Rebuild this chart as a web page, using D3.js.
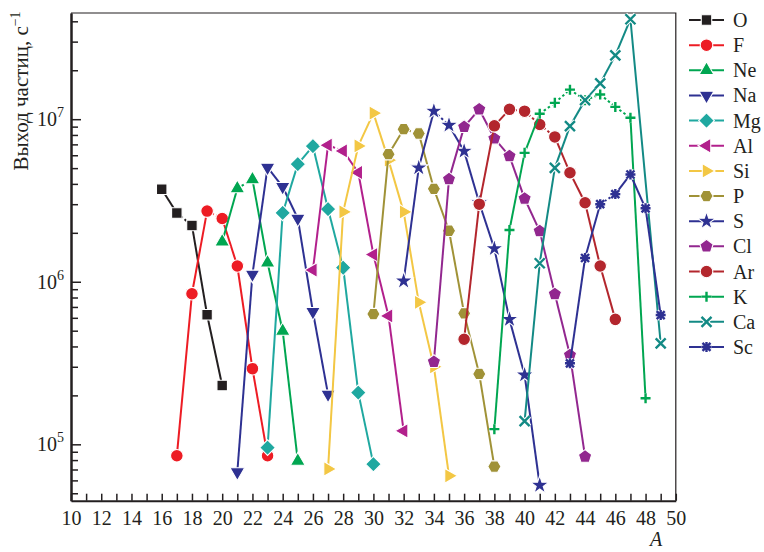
<!DOCTYPE html>
<html><head><meta charset="utf-8">
<script src="https://cdn.jsdelivr.net/npm/d3@7"></script>
<style>
html,body{margin:0;padding:0;background:#fff;}
svg{display:block;font-family:"Liberation Serif","Times New Roman",serif;}
</style></head>
<body><svg id="c" width="764" height="552"></svg>
<script>
// ---- data (mass number A -> particle yield, s^-1) ----
const elements = ["O","F","Ne","Na","Mg","Al","Si","P","S","Cl","Ar","K","Ca","Sc"];
const massO  = [16,17,18,19,20];
const yieldO = [3.71e6,2.65e6,2.22e6,6.27e5,2.30e5];
const massF  = [17,18,19,20,21,22,23];
const yieldF = [8.5e4,8.44e5,2.72e6,2.45e6,1.25e6,2.92e5,8.5e4];
const massNe  = [20,21,22,23,24,25];
const yieldNe = [1.76e6,3.75e6,4.26e6,1.31e6,4.98e5,7.9e4];
const massNa  = [21,22,23,24,25,26,27];
const yieldNa = [6.76e4,1.11e6,5.05e6,3.84e6,2.45e6,6.54e5,2.03e5];
const massMg  = [23,24,25,26,27,28,29,30];
const yieldMg = [9.55e4,2.65e6,5.29e6,6.82e6,2.80e6,1.22e6,2.08e5,7.55e4];
const massAl  = [26,27,28,29,30,31,32];
const yieldAl = [1.18e6,6.92e6,6.38e6,4.70e6,1.47e6,6.16e5,1.21e5];
const massSi  = [27,28,29,30,31,32,33,34,35];
const yieldSi = [7.06e4,2.69e6,6.85e6,1.09e7,5.6e6,2.69e6,7.47e5,3.0e5,6.4e4];
const massP  = [30,31,32,33,34,35,36,37,38];
const yieldP = [6.33e5,6.09e6,8.68e6,8.17e6,3.73e6,2.06e6,6.39e5,2.71e5,7.3e4];
const massS  = [32,33,34,35,36,37,38,39,40,41];
const yieldS = [1.01e6,5.02e6,1.12e7,9.18e6,6.36e6,3.06e6,1.60e6,5.87e5,2.67e5,5.6e4];
const massCl  = [34,35,36,37,38,39,40,41,42,43,44];
const yieldCl = [3.22e5,4.28e6,8.97e6,1.15e7,7.61e6,5.93e6,3.25e6,2.05e6,8.4e5,3.54e5,8.4e4];
const massAr  = [36,37,38,39,40,41,42,43,44,45,46];
const yieldAr = [4.43e5,3.0e6,9.1e6,1.15e7,1.12e7,9.28e6,7.78e6,4.68e6,3.06e6,1.25e6,5.87e5];
const massK  = [38,39,40,41,42,43,44,45,46,47,48];
const yieldK = [1.24e5,2.08e6,6.21e6,1.08e7,1.26e7,1.52e7,1.31e7,1.42e7,1.19e7,1.02e7,1.92e5];
const massCa  = [40,41,42,43,44,45,46,47,49];
const yieldCa = [1.39e5,1.30e6,5.02e6,9.06e6,1.31e7,1.66e7,2.47e7,4.12e7,4.18e5];
const massSc  = [43,44,45,46,47,48,49];
const yieldSc = [3.15e5,1.40e6,3.0e6,3.46e6,4.57e6,2.83e6,6.24e5];

const xTicks = d3.range(10, 51, 1);
const xTickLabels = d3.range(10, 51, 2);
const yMajor = [1e5, 1e6, 1e7];
const yMajorExp = ["5","6","7"];
const yMinor = [5e4,6e4,7e4,8e4,9e4,2e5,3e5,4e5,5e5,6e5,7e5,8e5,9e5,2e6,3e6,4e6,5e6,6e6,7e6,8e6,9e6,2e7,3e7,4e7];

// ---- styles ----
const series = [
  {name:"O",  m:massO,  v:yieldO,  color:"#231f20", shape:"square"},
  {name:"F",  m:massF,  v:yieldF,  color:"#ed1c24", shape:"circle"},
  {name:"Ne", m:massNe, v:yieldNe, color:"#00a651", shape:"triUp"},
  {name:"Na", m:massNa, v:yieldNa, color:"#2e3192", shape:"triDown"},
  {name:"Mg", m:massMg, v:yieldMg, color:"#1fa8a0", shape:"diamond"},
  {name:"Al", m:massAl, v:yieldAl, color:"#b2208c", shape:"triLeft"},
  {name:"Si", m:massSi, v:yieldSi, color:"#f3c744", shape:"triRight"},
  {name:"P",  m:massP,  v:yieldP,  color:"#a09237", shape:"hexagon"},
  {name:"S",  m:massS,  v:yieldS,  color:"#2e3192", shape:"star"},
  {name:"Cl", m:massCl, v:yieldCl, color:"#92278f", shape:"pentagon"},
  {name:"Ar", m:massAr, v:yieldAr, color:"#b3262d", shape:"circle"},
  {name:"K",  m:massK,  v:yieldK,  color:"#00a651", shape:"plus"},
  {name:"Ca", m:massCa, v:yieldCa, color:"#138a85", shape:"cross"},
  {name:"Sc", m:massSc, v:yieldSc, color:"#2e3192", shape:"asterisk"}
];

const L = 71, R = 675.8, T = 13, B = 500.7;
const x = d3.scaleLinear().domain([10, 50]).range([L, R]);
const y = d3.scaleLog().domain([4.5e4, 4.5e7]).range([B, T]);
const svg = d3.select("#c");
const axisColor = "#231f20";

// frame (top & right)
svg.append("path").attr("d", `M${L},${T}H${R}V${B}`).attr("fill","none")
  .attr("stroke", axisColor).attr("stroke-width", 1.2);

// x axis
const gx = svg.append("g").attr("transform", `translate(0,${B})`)
  .call(d3.axisBottom(x).tickValues(xTicks).tickSize(-7).tickSizeOuter(0).tickPadding(10)
    .tickFormat(d => xTickLabels.includes(d) ? d : ""));
// y axis minor
const gyMinor = svg.append("g").attr("transform", `translate(${L},0)`)
  .call(d3.axisLeft(y).tickValues(yMinor).tickSize(-7).tickSizeOuter(0).tickFormat(""));
const gy = svg.append("g").attr("transform", `translate(${L},0)`)
  .call(d3.axisLeft(y).tickValues(yMajor).tickSize(-10).tickSizeOuter(0).tickFormat(""));
[gx, gyMinor, gy].forEach(g => {
  g.selectAll("path.domain").attr("stroke", axisColor).attr("stroke-width", 2);
  g.selectAll(".tick line").attr("stroke", axisColor).attr("stroke-width", 1.5);
  g.selectAll("text").attr("fill", axisColor).attr("font-size", 20)
    .attr("font-family", '"Liberation Serif",serif');
});
// y major labels with superscripts
yMajor.forEach((v, i) => {
  const t = svg.append("text").attr("x", 64).attr("y", y(v) + 7)
    .attr("text-anchor", "end").attr("font-size", 20).attr("fill", axisColor);
  t.append("tspan").text("10");
  t.append("tspan").attr("dy", -9).attr("font-size", 14).text(yMajorExp[i]);
});

// axis titles
const yt = svg.append("text").attr("transform", "translate(28,91) rotate(-90)")
  .attr("text-anchor", "middle").attr("font-size", 21).attr("fill", axisColor);
yt.append("tspan").text("Выход частиц, с");
yt.append("tspan").attr("dy", -8).attr("font-size", 14).text("−1");
svg.append("text").attr("x", 656).attr("y", 546).attr("text-anchor", "middle")
  .attr("font-size", 20).attr("font-style", "italic").attr("fill", axisColor).text("A");

// marker drawing
function poly(n, r, rot) {
  const pts = d3.range(n).map(k => {
    const a = rot + k * 2 * Math.PI / n;
    return [r * Math.cos(a), r * Math.sin(a)];
  });
  return "M" + pts.map(p => p.join(",")).join("L") + "Z";
}
function drawMarker(g, shape, color, cx, cy) {
  const gg = g.append("g").attr("transform", `translate(${cx},${cy})`);
  const fillShape = (d) => gg.append("path").attr("d", d).attr("fill", color)
    .attr("stroke", "#fff").attr("stroke-width", 1.1);
  const sym = (type, size) => d3.symbol().type(type).size(size)();
  switch (shape) {
    case "square": fillShape(sym(d3.symbolSquare, 110)); break;
    case "circle": fillShape(sym(d3.symbolCircle, 125)); break;
    case "triUp": fillShape(poly(3, 8.5, -Math.PI / 2)); break;
    case "triDown": fillShape(poly(3, 8.5, Math.PI / 2)); break;
    case "triLeft": fillShape(poly(3, 8.5, Math.PI)); break;
    case "triRight": fillShape(poly(3, 8.5, 0)); break;
    case "diamond": fillShape(poly(4, 7.8, 0)); break;
    case "hexagon": fillShape(poly(6, 6.6, 0)); break;
    case "pentagon": fillShape(poly(5, 7, -Math.PI / 2)); break;
    case "star": fillShape(sym(d3.symbolStar, 105)); break;
    default: {
      let d;
      const s = 5;
      if (shape === "plus") d = `M${-s},0H${s}M0,${-s}V${s}`;
      else if (shape === "cross") d = `M${-s},${-s}L${s},${s}M${-s},${s}L${s},${-s}`;
      else d = `M${-s},0H${s}M0,${-s}V${s}M${-4},${-4}L4,4M${-4},4L4,${-4}`;
      gg.append("path").attr("d", d).attr("stroke", "#fff").attr("stroke-width", 4.5)
        .attr("fill", "none");
      gg.append("path").attr("d", d).attr("stroke", color).attr("stroke-width", 2.4)
        .attr("fill", "none");
    }
  }
}

// series lines and markers
const plot = svg.append("g");
series.forEach(s => {
  const pts = s.m.map((a, i) => [x(a), y(s.v[i])]);
  const g = plot.append("g");
  for (let i = 0; i < pts.length - 1; i++) {
    const [x1, y1] = pts[i], [x2, y2] = pts[i + 1];
    const len = Math.hypot(x2 - x1, y2 - y1);
    g.append("line").attr("x1", x1).attr("y1", y1).attr("x2", x2).attr("y2", y2)
      .attr("stroke", s.color).attr("stroke-width", 2)
      .attr("stroke-dasharray", len < 21 ? "2.5,2.5" : null);
  }
  pts.forEach(p => drawMarker(g, s.shape, s.color, p[0], p[1]));
});

// legend
const lg = svg.append("g");
series.forEach((s, i) => {
  const ly = 20 + 25.15 * i;
  lg.append("line").attr("x1", 689).attr("x2", 724).attr("y1", ly).attr("y2", ly)
    .attr("stroke", s.color).attr("stroke-width", 2);
  drawMarker(lg, s.shape, s.color, 706.5, ly);
  lg.append("text").attr("x", 733).attr("y", ly + 7).attr("font-size", 20)
    .attr("fill", axisColor).text(s.name);
});
</script></body></html>
